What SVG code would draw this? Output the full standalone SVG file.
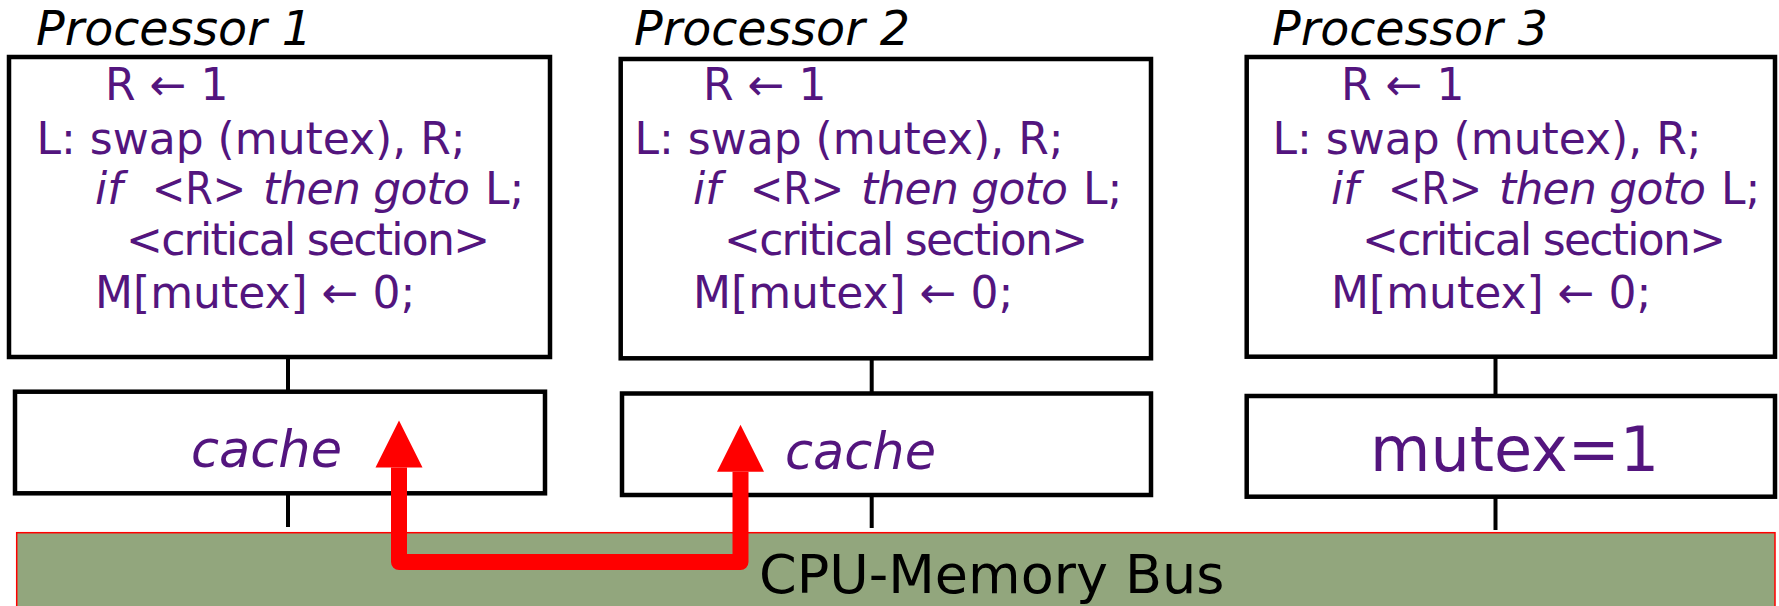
<svg xmlns="http://www.w3.org/2000/svg" width="1779" height="606" viewBox="0 0 1779 606">
  <style>
    .box { fill: #ffffff; stroke: #000000; stroke-width: 4.5; }
    .conn { stroke: #000000; stroke-width: 4; fill: none; }
    .lbl { font-family: "DejaVu Sans", Verdana, sans-serif; font-style: italic; font-size: 47.5px; fill: #000000; }
    .code { font-family: "DejaVu Sans", Verdana, sans-serif; font-size: 44px; fill: #53157e; }
    .it { font-style: italic; }
    .cache { font-family: "DejaVu Sans", Verdana, sans-serif; font-style: italic; font-size: 51px; fill: #53157e; }
    .mem { font-family: "DejaVu Sans", Verdana, sans-serif; font-size: 62px; fill: #53157e; }
    .bus { fill: #92a67d; stroke: #ff0000; stroke-width: 1.5; }
    .bustxt { font-family: "DejaVu Sans", Verdana, sans-serif; font-size: 54px; fill: #000000; }
    .red { stroke: #ff0000; stroke-width: 16; fill: none; stroke-linejoin: round; }
  </style>
  <defs>
    <marker id="head" markerUnits="userSpaceOnUse" markerWidth="48" markerHeight="48" refX="0" refY="23.5" orient="auto-start-reverse" viewBox="0 0 48 47">
      <path d="M0,0 L47,23.5 L0,47 z" fill="#ff0000"/>
    </marker>
  </defs>

  <g id="bus">
    <rect class="bus" x="16.7" y="532.7" width="1758.3" height="80"/>
    <text class="bustxt" x="759" y="593">CPU-Memory Bus</text>
  </g>

  <g id="connectors">
    <line class="conn" x1="288" y1="358" x2="288" y2="392"/>
    <line class="conn" x1="288" y1="493" x2="288" y2="527"/>
    <line class="conn" x1="871.7" y1="360" x2="871.7" y2="394"/>
    <line class="conn" x1="871.7" y1="495" x2="871.7" y2="528"/>
    <line class="conn" x1="1495.5" y1="358" x2="1495.5" y2="396"/>
    <line class="conn" x1="1495.5" y1="497" x2="1495.5" y2="530"/>
  </g>

  <g id="processor1">
    <text class="lbl" x="36" y="45">Processor 1</text>
    <rect class="box" x="9" y="57" width="541" height="300"/>
    <text class="code" x="105" y="100">R ← 1</text>
    <text class="code" x="36.5" y="154">L: swap (mutex), R;</text>
    <text class="code" y="204"><tspan class="it" x="95">if</tspan><tspan x="152" textLength="94" lengthAdjust="spacingAndGlyphs">&lt;R&gt;</tspan><tspan class="it" x="263" textLength="207" lengthAdjust="spacing">then goto</tspan><tspan x="485">L;</tspan></text>
    <text class="code" x="126" y="255" textLength="364" lengthAdjust="spacing">&lt;critical section&gt;</text>
    <text class="code" x="95" y="308">M[mutex] ← 0;</text>
  </g>
  <g id="cache1">
    <rect class="box" x="15" y="391.7" width="530" height="101.6"/>
    <text class="cache" x="191" y="467">cache</text>
  </g>

  <g id="processor2">
    <text class="lbl" x="634" y="45">Processor 2</text>
    <rect class="box" x="620.7" y="59" width="530.3" height="299.3"/>
    <text class="code" x="703" y="100">R ← 1</text>
    <text class="code" x="634.5" y="154">L: swap (mutex), R;</text>
    <text class="code" y="204"><tspan class="it" x="693">if</tspan><tspan x="750" textLength="94" lengthAdjust="spacingAndGlyphs">&lt;R&gt;</tspan><tspan class="it" x="861" textLength="207" lengthAdjust="spacing">then goto</tspan><tspan x="1083">L;</tspan></text>
    <text class="code" x="724" y="255" textLength="364" lengthAdjust="spacing">&lt;critical section&gt;</text>
    <text class="code" x="693" y="308">M[mutex] ← 0;</text>
  </g>
  <g id="cache2">
    <rect class="box" x="622" y="393.5" width="529" height="101.5"/>
    <text class="cache" x="785" y="469">cache</text>
  </g>

  <g id="processor3">
    <text class="lbl" x="1272" y="45">Processor 3</text>
    <rect class="box" x="1246.7" y="57" width="528.3" height="299.7"/>
    <text class="code" x="1341" y="100">R ← 1</text>
    <text class="code" x="1272.5" y="154">L: swap (mutex), R;</text>
    <text class="code" y="204"><tspan class="it" x="1331">if</tspan><tspan x="1388" textLength="94" lengthAdjust="spacingAndGlyphs">&lt;R&gt;</tspan><tspan class="it" x="1499" textLength="207" lengthAdjust="spacing">then goto</tspan><tspan x="1721">L;</tspan></text>
    <text class="code" x="1362" y="255" textLength="364" lengthAdjust="spacing">&lt;critical section&gt;</text>
    <text class="code" x="1331" y="308">M[mutex] ← 0;</text>
  </g>
  <g id="memory3">
    <rect class="box" x="1246.7" y="396" width="528.3" height="100.7"/>
    <text class="mem" x="1370" y="471">mutex=1</text>
  </g>

  <g id="transfer">
    <path class="red" d="M399,467.5 L399,562 L740.5,562 L740.5,471.7" marker-start="url(#head)" marker-end="url(#head)"/>
  </g>
</svg>
